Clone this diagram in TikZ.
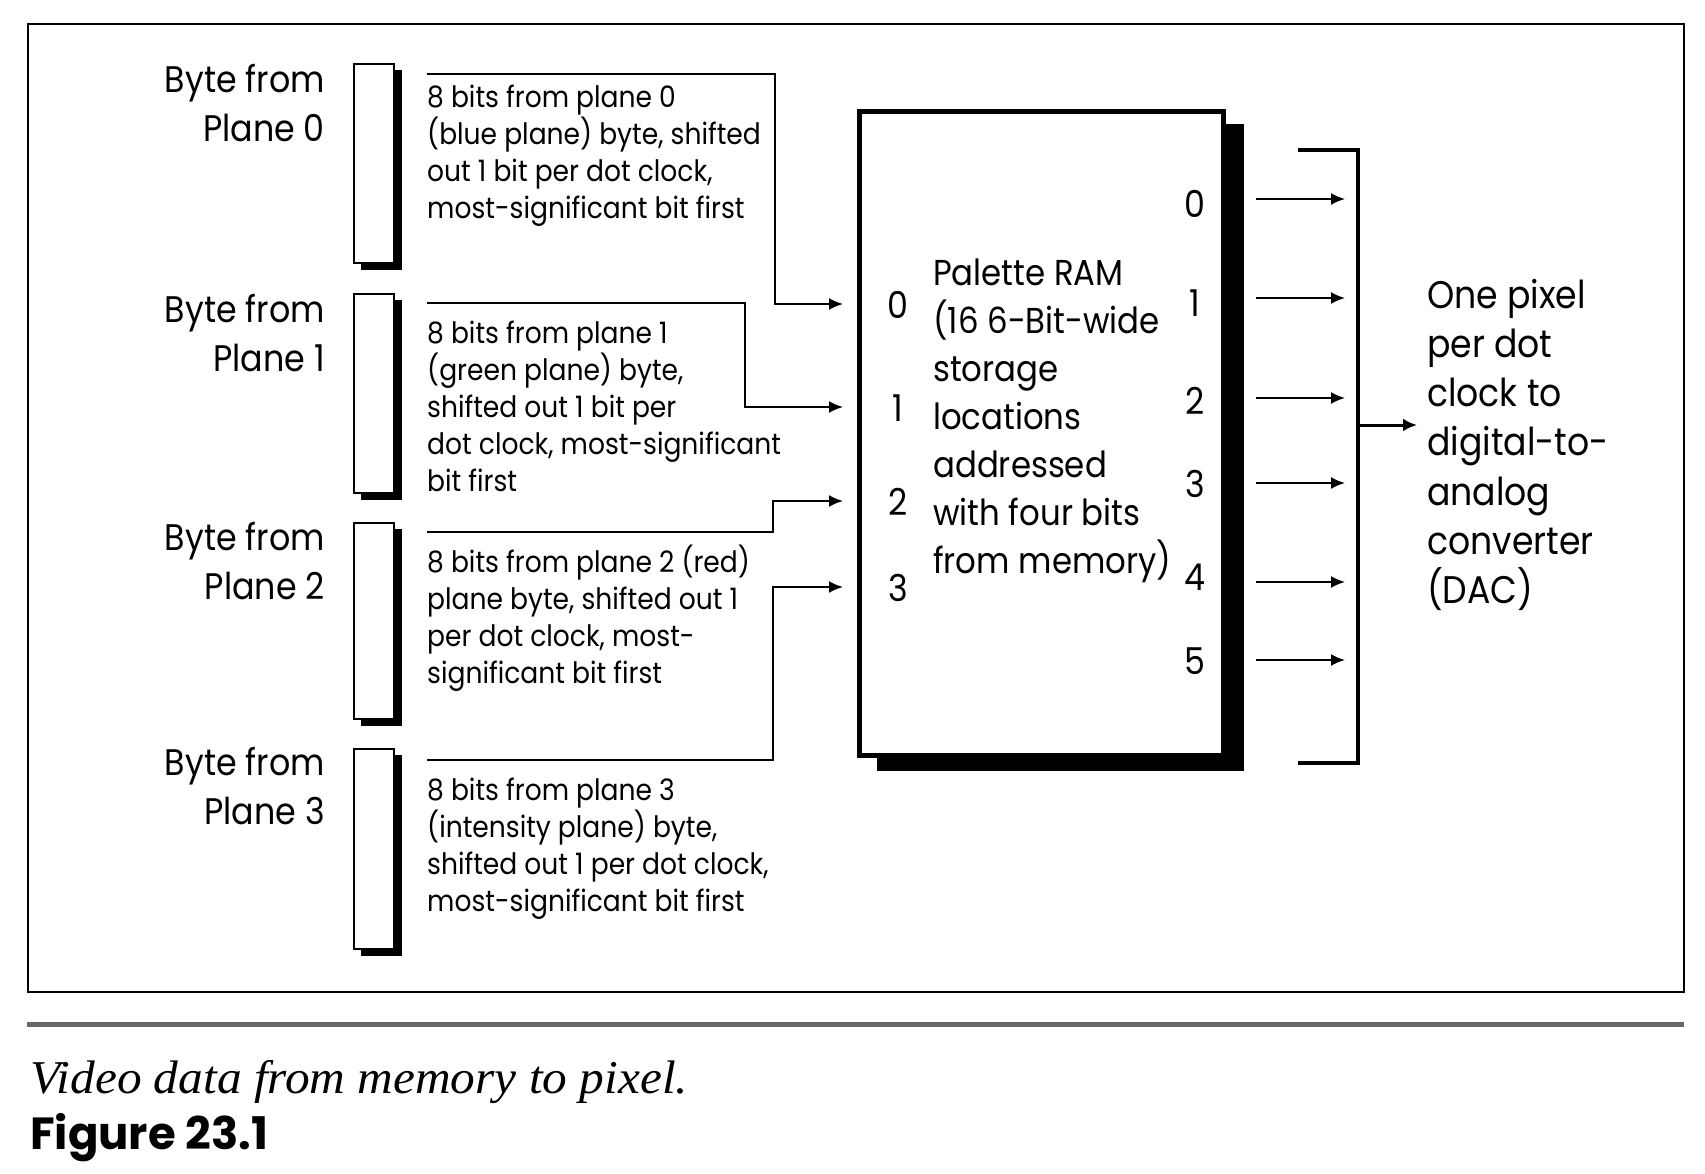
\documentclass[tikz,border=0pt]{standalone}
\usepackage{fontspec}
\setmainfont[FakeStretch=0.9]{Poppins}
\newfontfamily\figfont{Poppins}
\newfontfamily\capfont[FakeStretch=1.05]{Liberation Serif}
\usetikzlibrary{arrows.meta,calc}
\newcommand\tstrut{\rule{0pt}{40pt}}
\begin{document}
\begin{tikzpicture}[x=1pt,y=-1pt,
  bigtxt/.style={font=\fontsize{37}{49}\selectfont, inner sep=0pt},
  desctxt/.style={font=\fontsize{29.5}{37}\selectfont, inner sep=0pt, align=left, anchor=north west},
  bytelbl/.style={bigtxt, align=right, anchor=north east},
  digit/.style={inner sep=0pt, anchor=base, font=\fontsize{37}{40}\selectfont},
  bytebox/.style={draw, line width=2pt, fill=white, inner sep=0pt, minimum width=40pt, minimum height=198pt, anchor=north west},
  conn/.style={line width=2pt, -{Latex[length=14pt,width=12pt]}},
  outarr/.style={line width=2pt, -{Latex[length=14pt,width=12pt]}}
]
\useasboundingbox (0,0) rectangle (1705,1173);
% frame
\draw[line width=2.5pt] (28,24) rectangle (1684,992);
\fill[black!60] (27,1022) rectangle (1684,1027);

% byte boxes with shadows
\foreach \i/\t/\h in {0/63/199,1/293/199,2/522/196,3/748/200}{
  \fill (361,\t+7) rectangle (402,\t+\h+8);
  \node[bytebox, minimum height=\h pt] (b\i) at (353,\t) {};
}

% byte labels
\node[bytelbl] (l0) at (325,52) {\tstrut Byte from\\Plane 0};
\node[bytelbl] (l1) at (325,282) {\tstrut Byte from\\Plane 1};
\node[bytelbl] (l2) at (325,510) {\tstrut Byte from\\Plane 2};
\node[bytelbl] (l3) at (325,735) {\tstrut Byte from\\Plane 3};

% descriptions
\node[desctxt] (d0) at (427,67) {\tstrut 8 bits from plane 0\\(blue plane) byte, shifted\\out 1 bit per dot clock,\\most-significant bit first};
\node[desctxt] (d1) at (427,303) {\tstrut 8 bits from plane 1\\(green plane) byte,\\shifted out 1 bit per\\dot clock, most-significant\\bit first};
\node[desctxt] (d2) at (427,532) {\tstrut 8 bits from plane 2 (red)\\plane byte, shifted out 1\\per dot clock, most-\\significant bit first};
\node[desctxt] (d3) at (427,760) {\tstrut 8 bits from plane 3\\(intensity plane) byte,\\shifted out 1 per dot clock,\\most-significant bit first};

% palette RAM box
\fill (877,124) rectangle (1244,771);
\node[draw, line width=4.5pt, fill=white, inner sep=0pt, minimum width=364pt, minimum height=644pt, anchor=north west] (pal) at (857,109) {};
\node[inner sep=0pt, align=left, anchor=north west, font=\fontsize{36}{48}\selectfont] (paltxt) at (933,245) {\tstrut Palette RAM\\(16 6-Bit-wide\\storage\\locations\\addressed\\with four bits\\from memory)};

% input digits
\node[digit] (i0) at (898,318) {0};
\node[digit] (i1) at (898,421) {1};
\node[digit] (i2) at (898,515) {2};
\node[digit] (i3) at (898,601) {3};

% output digits
\node[digit] (q0) at (1195,217) {0};
\node[digit] (q1) at (1195,316) {1};
\node[digit] (q2) at (1195,414) {2};
\node[digit] (q3) at (1195,497) {3};
\node[digit] (q4) at (1195,590) {4};
\node[digit] (q5) at (1195,674) {5};

% connectors
\coordinate (s0) at (427,74);
\coordinate (s1) at (427,303);
\coordinate (s2) at (427,532);
\coordinate (s3) at (427,760);
\coordinate (k0) at (775,304);
\coordinate (k1) at (745,407);
\coordinate (k2) at (773,501);
\coordinate (k3) at (773,587);
\coordinate (in0) at (843,304);
\coordinate (in1) at (843,407);
\coordinate (in2) at (843,501);
\coordinate (in3) at (843,587);
\draw[conn] (s0) -| (k0) -- (in0);
\draw[conn] (s1) -| (k1) -- (in1);
\draw[conn] (s2) -| (k2) -- (in2);
\draw[conn] (s3) -| (k3) -- (in3);

% outputs
\foreach \j/\y in {0/199,1/298,2/398,3/483,4/582,5/660}{
  \coordinate (os\j) at (1256,\y);
  \coordinate (oe\j) at (1345,\y);
  \draw[outarr] (os\j) -- (oe\j);
}
% bracket
\coordinate (bt) at (1298,150);
\coordinate (bb) at (1298,763);
\coordinate (bm) at (1358,425);
\coordinate (dac) at (1417,425);
\draw[line width=4pt] (bt) -- (1358,150) -- (1358,763) -- (bb);
\draw[line width=3pt, -{Latex[length=14pt,width=13pt]}] (bm) -- (dac);

\node[inner sep=0pt, align=left, anchor=north west, font=\fontsize{38.5}{49.2}\selectfont] (out) at (1427,268) {\tstrut One pixel\\per dot\\clock to\\digital-to-\\analog\\converter\\(DAC)};

% caption
\node[inner sep=0pt, anchor=base west, font=\capfont\itshape\fontsize{47}{50}\selectfont] (cap) at (30,1093) {Video data from memory to pixel.};
\node[inner sep=0pt, anchor=base west, font=\figfont\bfseries\fontsize{45}{50}\selectfont] (fig) at (30,1149) {Figure 23.1};
\end{tikzpicture}
\end{document}
